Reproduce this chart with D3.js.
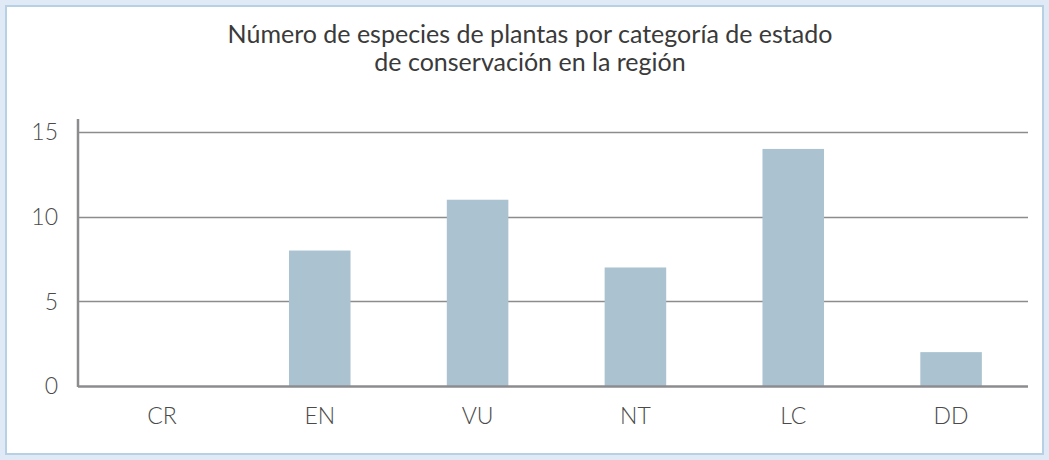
<!DOCTYPE html>
<html lang="es">
<head>
<meta charset="utf-8">
<script src="https://cdn.jsdelivr.net/npm/d3@7"></script>
<style>
  html, body { margin: 0; padding: 0; background: #dfeaf6; }
  svg { display: block; }
  text { font-family: Lato, "Open Sans", sans-serif; }
</style>
</head>
<body>
<svg id="chart" width="1049" height="460"></svg>
<script>
// Conservation status categories and species counts
const categories = ["CR", "EN", "VU", "NT", "LC", "DD"];
const speciesCount = [0, 8, 11, 7, 14, 2];
const yTicks = [0, 5, 10, 15];
const titleLines = [
  "Número de especies de plantas por categoría de estado",
  "de conservación en la región"
];

const W = 1049, H = 460;
const svg = d3.select("#chart");

// Framed panel
svg.append("rect")
  .attr("x", 0).attr("y", 0).attr("width", W).attr("height", H)
  .attr("fill", "#dfeaf6");
svg.append("rect")
  .attr("x", 6).attr("y", 6).attr("width", W - 12).attr("height", H - 12)
  .attr("fill", "#ffffff")
  .attr("stroke", "#b8d0e3").attr("stroke-width", 2);

// Title
svg.append("text")
  .attr("x", 530).attr("y", 43)
  .attr("text-anchor", "middle")
  .attr("font-size", 25)
  .attr("font-weight", 400)
  .attr("fill", "#3a3a3a")
  .selectAll("tspan")
  .data(titleLines)
  .join("tspan")
  .attr("x", 530)
  .attr("dy", (d, i) => i === 0 ? 0 : 28)
  .text(d => d);

// Scales
const x = d3.scaleBand()
  .domain(categories)
  .range([83, 1030])
  .paddingInner(0.61)
  .paddingOuter(0.305);

const y = d3.scaleLinear()
  .domain([0, 15])
  .range([386, 132]);

const axisLeft = 78, axisRight = 1028;

// Horizontal gridlines
svg.append("g")
  .selectAll("line")
  .data(yTicks.filter(t => t > 0))
  .join("line")
  .attr("x1", axisLeft).attr("x2", axisRight)
  .attr("y1", d => Math.round(y(d)) + 0.5)
  .attr("y2", d => Math.round(y(d)) + 0.5)
  .attr("stroke", "#8c8c8f")
  .attr("stroke-width", 1.5);

// Bars
svg.append("g")
  .selectAll("rect")
  .data(categories.map((c, i) => ({ c, v: speciesCount[i] })))
  .join("rect")
  .attr("x", d => x(d.c))
  .attr("y", d => y(d.v))
  .attr("width", x.bandwidth())
  .attr("height", d => y(0) - y(d.v))
  .attr("fill", "#abc3d1");

// Axis lines
svg.append("line")
  .attr("x1", axisLeft).attr("x2", axisLeft)
  .attr("y1", 119).attr("y2", 387)
  .attr("stroke", "#8c8c8f").attr("stroke-width", 2.5);
svg.append("line")
  .attr("x1", axisLeft).attr("x2", axisRight)
  .attr("y1", 386.5).attr("y2", 386.5)
  .attr("stroke", "#8c8c8f").attr("stroke-width", 2.5);

// Y tick labels
svg.append("g")
  .selectAll("text")
  .data(yTicks)
  .join("text")
  .attr("x", 58)
  .attr("y", d => y(d))
  .attr("dy", "0.36em")
  .attr("text-anchor", "end")
  .attr("font-size", 23)
  .attr("font-weight", 300)
  .attr("fill", "#4a4a4a")
  .text(d => d);

// Category labels
svg.append("g")
  .selectAll("text")
  .data(categories)
  .join("text")
  .attr("x", d => x(d) + x.bandwidth() / 2)
  .attr("y", 424)
  .attr("text-anchor", "middle")
  .attr("font-size", 23)
  .attr("font-weight", 300)
  .attr("fill", "#4a4a4a")
  .text(d => d);
</script>
</body>
</html>
